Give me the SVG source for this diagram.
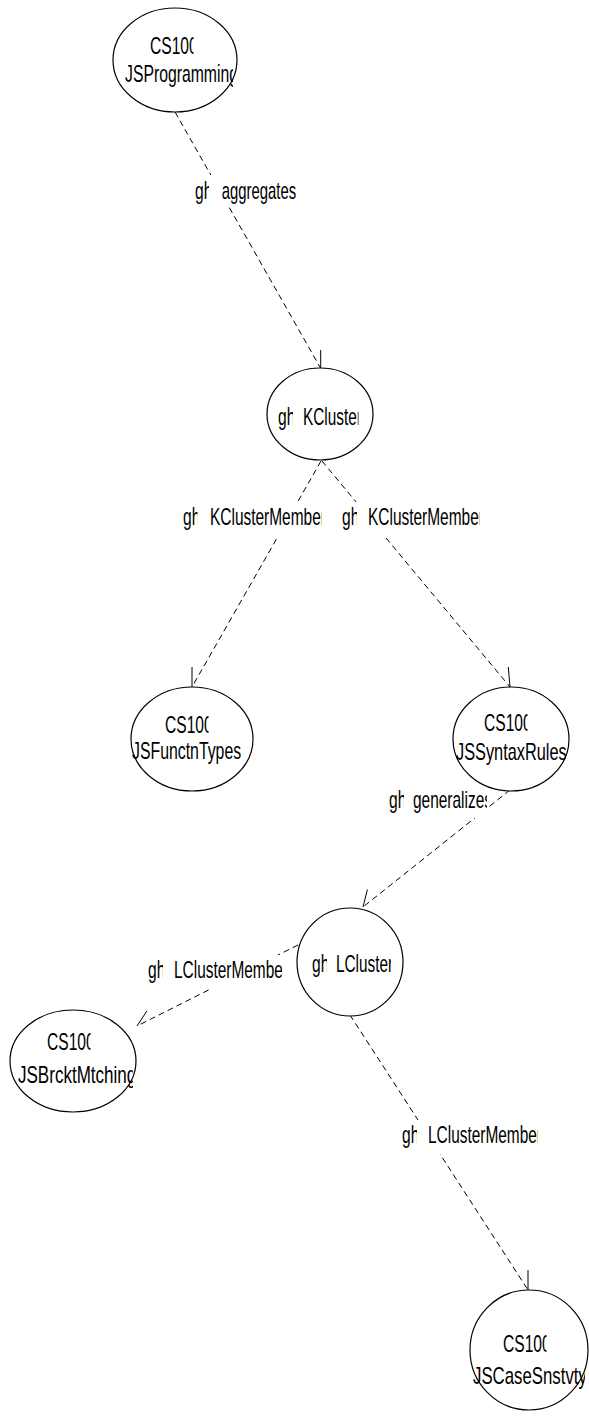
<svg xmlns="http://www.w3.org/2000/svg" width="589" height="1417" viewBox="0 0 589 1417">
<style>
.bg{fill:#fff}
.n{fill:#fff;stroke:#000;stroke-width:1.2}
.t{font-family:"Liberation Sans",Arial,sans-serif;font-size:24px;fill:#000}
.e{fill:none;stroke:#000;stroke-width:1;stroke-dasharray:6 4}
.b{fill:none;stroke:#000;stroke-width:1}
.lb{fill:#fff}
</style>
<defs>
<clipPath id="cA1"><rect x="140" y="25" width="53.5" height="40"/></clipPath>
<clipPath id="cA2"><rect x="115" y="55" width="118" height="40"/></clipPath>
<clipPath id="cg1"><rect x="190" y="170" width="19" height="40"/></clipPath>
<clipPath id="cK1"><rect x="270" y="395" width="23" height="40"/></clipPath>
<clipPath id="cK2"><rect x="298" y="395" width="60.5" height="40"/></clipPath>
<clipPath id="cg2"><rect x="178" y="495" width="19.5" height="40"/></clipPath>
<clipPath id="cm2"><rect x="205" y="495" width="117" height="40"/></clipPath>
<clipPath id="cg3"><rect x="337" y="495" width="20" height="40"/></clipPath>
<clipPath id="cm3"><rect x="363" y="495" width="117" height="40"/></clipPath>
<clipPath id="cF1"><rect x="160" y="705" width="48.5" height="40"/></clipPath>
<clipPath id="cS1"><rect x="479" y="705" width="48.5" height="40"/></clipPath>
<clipPath id="cS2"><rect x="450" y="735" width="116" height="40"/></clipPath>
<clipPath id="cg4"><rect x="384" y="780" width="20" height="40"/></clipPath>
<clipPath id="cm4"><rect x="408" y="780" width="79" height="40"/></clipPath>
<clipPath id="cL1"><rect x="305" y="945" width="22" height="40"/></clipPath>
<clipPath id="cL2"><rect x="331" y="945" width="60" height="40"/></clipPath>
<clipPath id="cg5"><rect x="143" y="950" width="20" height="40"/></clipPath>
<clipPath id="cm5"><rect x="169" y="950" width="113" height="40"/></clipPath>
<clipPath id="cg6"><rect x="397" y="1115" width="20" height="40"/></clipPath>
<clipPath id="cm6"><rect x="423" y="1115" width="115" height="40"/></clipPath>
<clipPath id="cB1"><rect x="42" y="1025" width="48.5" height="40"/></clipPath>
<clipPath id="cB2"><rect x="13" y="1055" width="120" height="40"/></clipPath>
<clipPath id="cC1"><rect x="498" y="1327" width="48.5" height="40"/></clipPath>
<clipPath id="cC2"><rect x="468" y="1359" width="117" height="40"/></clipPath>
</defs>
<rect class="bg" x="0" y="0" width="589" height="1417"/>

<g id="connectors">
<path class="e" d="M175,112 L320.7,368.3"/>
<path class="b" d="M320.7,368.3 L320.7,350"/>
<path class="e" d="M321,461 L192,687"/>
<path class="b" d="M192,687 L192,667"/>
<path class="e" d="M322,461 L510,687"/>
<path class="b" d="M510,687 L508.3,667"/>
<path class="e" d="M510,790 L363,907"/>
<path class="b" d="M363,907 L367.4,889.5"/>
<path class="e" d="M298,945 L137,1026"/>
<path class="b" d="M137,1026 L146.9,1011"/>
<path class="e" d="M350,1015 L528,1290"/>
<path class="b" d="M528,1290 L528,1270"/>
</g>

<g id="labels">
<g id="label-aggregates">
<rect class="lb" x="193" y="175" width="103" height="32"/>
<g clip-path="url(#cg1)"><text class="t" transform="translate(195,199) scale(0.65,1)">gh</text></g>
<text class="t" transform="translate(221.7,199) scale(0.62,1)">aggregates</text>
</g>
<g id="label-kmember-1">
<rect class="lb" x="181" y="502" width="142" height="36"/>
<g clip-path="url(#cg2)"><text class="t" transform="translate(183,525) scale(0.65,1)">gh</text></g>
<g clip-path="url(#cm2)"><text class="t" transform="translate(210,525) scale(0.644,1)">KClusterMember</text></g>
</g>
<g id="label-kmember-2">
<rect class="lb" x="340" y="502" width="141" height="36"/>
<g clip-path="url(#cg3)"><text class="t" transform="translate(342,525) scale(0.65,1)">gh</text></g>
<g clip-path="url(#cm3)"><text class="t" transform="translate(368,525) scale(0.644,1)">KClusterMember</text></g>
</g>
<g id="label-generalizes">
<rect class="lb" x="387" y="784" width="101" height="34"/>
<g clip-path="url(#cg4)"><text class="t" transform="translate(389,808) scale(0.65,1)">gh</text></g>
<g clip-path="url(#cm4)"><text class="t" transform="translate(413,808) scale(0.644,1)">generalizes</text></g>
</g>
<g id="label-lmember-1">
<rect class="lb" x="146" y="955" width="137" height="34"/>
<g clip-path="url(#cg5)"><text class="t" transform="translate(148,978) scale(0.65,1)">gh</text></g>
<g clip-path="url(#cm5)"><text class="t" transform="translate(174,978) scale(0.643,1)">LClusterMember</text></g>
</g>
<g id="label-lmember-2">
<rect class="lb" x="400" y="1120" width="139" height="34"/>
<g clip-path="url(#cg6)"><text class="t" transform="translate(402,1143) scale(0.65,1)">gh</text></g>
<g clip-path="url(#cm6)"><text class="t" transform="translate(428,1143) scale(0.643,1)">LClusterMember</text></g>
</g>
</g>

<g id="node-JSProgramming">
<ellipse class="n" cx="175" cy="60" rx="62" ry="52"/>
<g clip-path="url(#cA1)"><text class="t" transform="translate(150,54) scale(0.65,1)">CS100</text></g>
<g clip-path="url(#cA2)"><text class="t" transform="translate(125,82) scale(0.657,1)">JSProgramming</text></g>
</g>
<g id="node-KCluster">
<ellipse class="n" cx="320" cy="414" rx="53" ry="46"/>
<g clip-path="url(#cK1)"><text class="t" transform="translate(278,425) scale(0.65,1)">gh</text></g>
<g clip-path="url(#cK2)"><text class="t" transform="translate(303,425) scale(0.64,1)">KCluster</text></g>
</g>
<g id="node-JSFunctnTypes">
<ellipse class="n" cx="192" cy="739" rx="61" ry="52"/>
<g clip-path="url(#cF1)"><text class="t" transform="translate(165,733) scale(0.65,1)">CS100</text></g>
<text class="t" transform="translate(132,759) scale(0.66,1)">JSFunctnTypes</text>
</g>
<g id="node-JSSyntaxRules">
<ellipse class="n" cx="511" cy="739" rx="58" ry="52"/>
<g clip-path="url(#cS1)"><text class="t" transform="translate(484,731) scale(0.65,1)">CS100</text></g>
<g clip-path="url(#cS2)"><text class="t" transform="translate(456,760) scale(0.68,1)">JSSyntaxRules</text></g>
</g>
<g id="node-LCluster">
<ellipse class="n" cx="350" cy="962" rx="53" ry="54"/>
<g clip-path="url(#cL1)"><text class="t" transform="translate(312,972) scale(0.65,1)">gh</text></g>
<g clip-path="url(#cL2)"><text class="t" transform="translate(336,972) scale(0.64,1)">LCluster</text></g>
</g>
<g id="node-JSBrcktMtching">
<ellipse class="n" cx="73" cy="1061" rx="63" ry="51"/>
<g clip-path="url(#cB1)"><text class="t" transform="translate(47,1050) scale(0.65,1)">CS100</text></g>
<g clip-path="url(#cB2)"><text class="t" transform="translate(18,1083) scale(0.71,1)">JSBrcktMtching</text></g>
</g>
<g id="node-JSCaseSnstvty">
<ellipse class="n" cx="529" cy="1350" rx="59" ry="60"/>
<g clip-path="url(#cC1)"><text class="t" transform="translate(503,1352) scale(0.65,1)">CS100</text></g>
<g clip-path="url(#cC2)"><text class="t" transform="translate(473,1384) scale(0.70,1)">JSCaseSnstvty</text></g>
</g>
</svg>
